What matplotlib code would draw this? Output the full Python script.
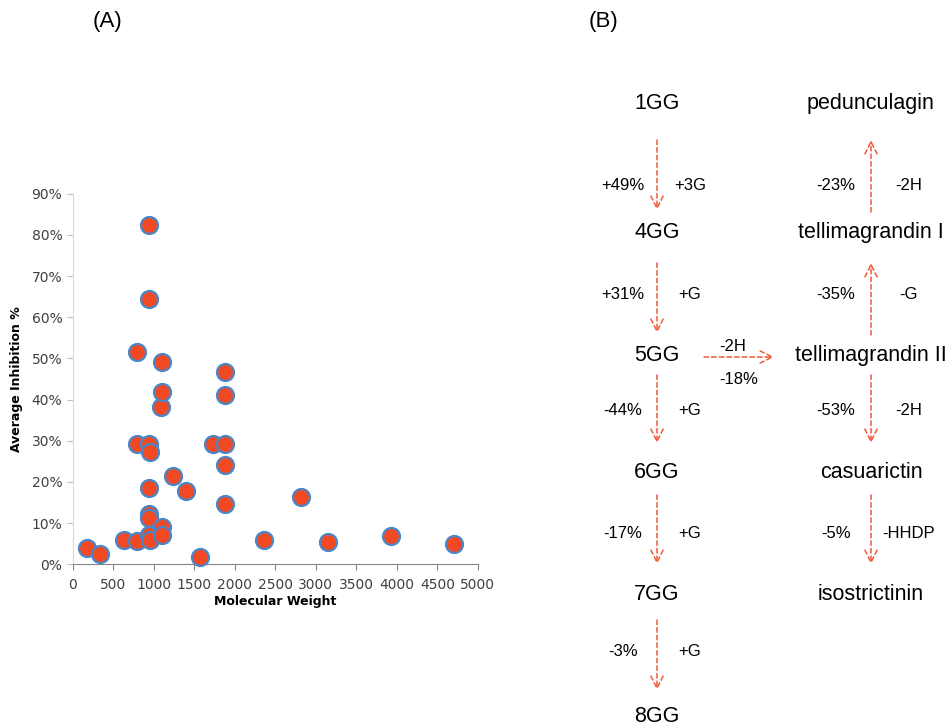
import matplotlib
matplotlib.use("Agg")
import matplotlib.pyplot as plt
from matplotlib.ticker import PercentFormatter

# panel A: molecular weight vs average inhibition
mol_weight = [172, 332, 636, 788, 788, 792, 948, 948, 948, 948, 948, 948, 948, 952,
              952, 1096, 1104, 1104, 1104, 1104, 1244, 1404, 1572, 1732, 1880, 1880,
              1880, 1880, 1880, 2356, 2815, 3153, 3932, 4709]
inhibition = [3.9, 2.4, 5.8, 5.7, 29.1, 51.6, 82.3, 64.4, 29.1, 18.6, 12.2, 11.3, 7.1, 27.2,
              5.9, 38.1, 49.1, 41.8, 9.1, 7.2, 21.4, 17.7, 1.8, 29.3, 46.7, 41.0,
              29.3, 24.1, 14.6, 6.0, 16.4, 5.4, 6.9, 4.9]
x_ticks = list(range(0, 5001, 500))
y_ticks = list(range(0, 91, 10))

# panel B: scheme nodes and the steps between them
left_nodes = ["1GG", "4GG", "5GG", "6GG", "7GG", "8GG"]
left_pct = ["+49%", "+31%", "-44%", "-17%", "-3%"]
left_step = ["+3G", "+G", "+G", "+G", "+G"]
right_nodes = ["pedunculagin", "tellimagrandin I", "tellimagrandin II", "casuarictin", "isostrictinin"]
right_pct = ["-23%", "-35%", "-53%", "-5%"]
right_step = ["-2H", "-G", "-2H", "-HHDP"]
right_dir = ["up", "up", "down", "down"]
cross_step, cross_pct = "-2H", "-18%"

RED = "#f04923"
EDGE = "#4a86c8"
ARROW = "#f05a3a"
FONT = "Liberation Sans"

fig = plt.figure(figsize=(9.5, 7.25), dpi=100)
ax = fig.add_axes([0.0765, 0.2217, 0.4265, 0.511])
ax.scatter(mol_weight, inhibition, s=150, color=RED, edgecolors=EDGE,
           linewidths=1.6, zorder=3, clip_on=False)
ax.set_xlim(0, 5000)
ax.set_ylim(0, 90)
ax.set_xticks(x_ticks)
ax.set_yticks(y_ticks)
ax.yaxis.set_major_formatter(PercentFormatter(decimals=0))
ax.tick_params(labelsize=10, colors="#404040", length=4)
ax.tick_params(axis="x", color="#868686", pad=6)
ax.tick_params(axis="y", color="#bfbfbf")
for s in ("top", "right"):
    ax.spines[s].set_visible(False)
ax.spines["left"].set_color("#d9d9d9")
ax.spines["bottom"].set_color("#868686")
ax.set_xlabel("Molecular Weight", fontsize=9, fontweight="bold", labelpad=2)
ax.set_ylabel("Average Inhibition %", fontsize=9, fontweight="bold", labelpad=6)

fig.text(108 / 950, 1 - 22 / 725, "(A)", fontsize=16, family=FONT, ha="center", va="center")
fig.text(603 / 950, 1 - 22 / 725, "(B)", fontsize=16, family=FONT, ha="center", va="center")

# panel B drawn on a pixel-coordinate overlay
ov = fig.add_axes([0, 0, 1, 1])
ov.set_xlim(0, 950)
ov.set_ylim(725, 0)
ov.axis("off")

lx, rx = 657, 871
node_y = [103, 232, 355, 472, 594, 716]
lab_y = [185, 294, 410, 534, 651]
arr_spans = [(140, 210), (263, 333), (375, 443), (495, 564), (620, 690)]
NODE_FS, LAB_FS = 15.5, 12


def arrow(x0, y0, x1, y1):
    ov.annotate("", xy=(x1, y1), xytext=(x0, y0),
                arrowprops=dict(arrowstyle="->", color=ARROW, lw=1.1,
                                linestyle=(0, (3, 2)), mutation_scale=22,
                                shrinkA=0, shrinkB=0))


for name, y in zip(left_nodes, node_y):
    ov.text(lx, y, name, fontsize=NODE_FS, family=FONT, ha="center", va="center")
for i, (p, st) in enumerate(zip(left_pct, left_step)):
    a, b = arr_spans[i]
    arrow(lx, a, lx, b)
    ov.text(623, lab_y[i], p, fontsize=LAB_FS, family=FONT, ha="center", va="center")
    ov.text(690, lab_y[i], st, fontsize=LAB_FS, family=FONT, ha="center", va="center")

for name, y in zip(right_nodes, node_y[:5]):
    ov.text(rx, y, name, fontsize=NODE_FS, family=FONT, ha="center", va="center")
for i, (p, st, d) in enumerate(zip(right_pct, right_step, right_dir)):
    a, b = arr_spans[i]
    if d == "up":
        arrow(rx, b + 2, rx, a)
    else:
        arrow(rx, a, rx, b)
    ov.text(836, lab_y[i], p, fontsize=LAB_FS, family=FONT, ha="center", va="center")
    ov.text(909, lab_y[i], st, fontsize=LAB_FS, family=FONT, ha="center", va="center")

arrow(704, 357, 774, 357)
ov.text(733, 346, cross_step, fontsize=LAB_FS, family=FONT, ha="center", va="center")
ov.text(739, 379, cross_pct, fontsize=LAB_FS, family=FONT, ha="center", va="center")

fig.savefig("out.png", dpi=100, facecolor="white")
